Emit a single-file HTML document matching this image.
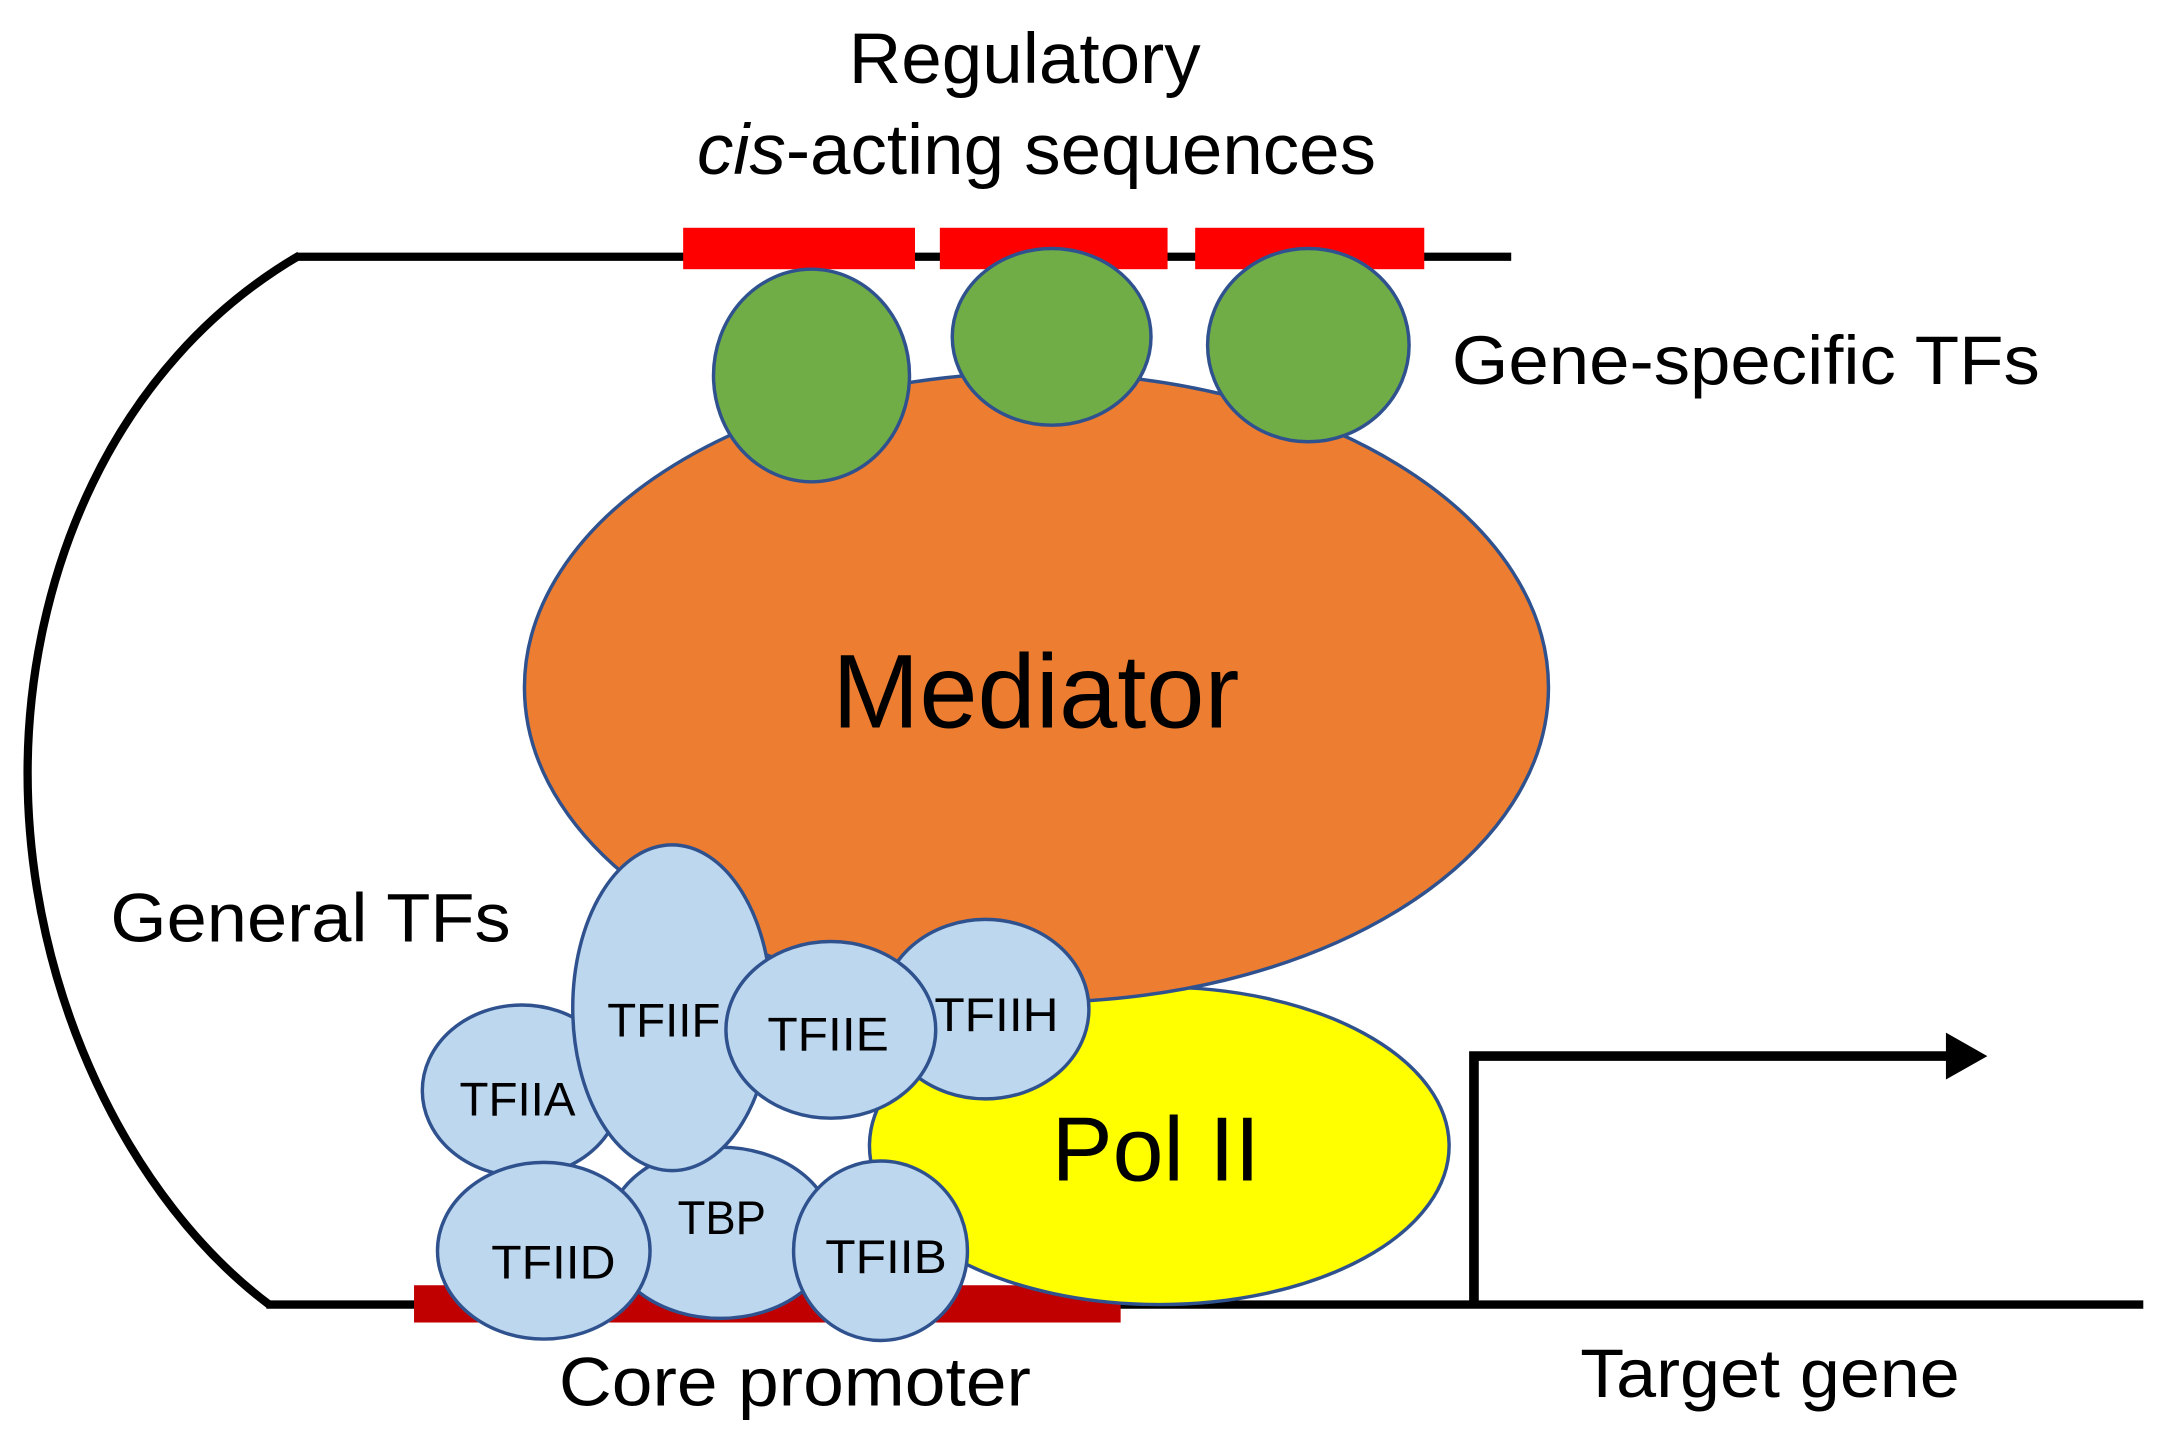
<!DOCTYPE html>
<html><head><meta charset="utf-8"><style>
html,body{margin:0;padding:0;background:#fff;}
svg{display:block;}
text{font-family:"Liberation Sans",sans-serif;fill:#000;}
</style></head><body>
<svg width="2164" height="1444" viewBox="0 0 1568 1046" preserveAspectRatio="none" xmlns="http://www.w3.org/2000/svg">
<rect width="1568" height="1046" fill="#fff"/>
<line x1="215" y1="186" x2="1095" y2="186" stroke="#000" stroke-width="6"/>
<path d="M217,185 C80,265 20,420 20,560 C20,720 95,870 195,945" fill="none" stroke="#000" stroke-width="6"/>
<line x1="193" y1="945" x2="1553" y2="945" stroke="#000" stroke-width="6"/>
<rect x="495" y="165" width="168" height="30" fill="#ff0000"/>
<rect x="681" y="165" width="165" height="30" fill="#ff0000"/>
<rect x="866" y="165" width="166" height="30" fill="#ff0000"/>
<rect x="300" y="931" width="512" height="27" fill="#c00000"/>
<polyline points="1068,945 1068,765 1415,765" fill="none" stroke="#000" stroke-width="7"/>
<polygon points="1410,748 1440,765 1410,782" fill="#000"/>
<ellipse cx="840" cy="830" rx="210" ry="115" fill="#ffff00" stroke="#2f528f" stroke-width="2.5"/>
<ellipse cx="751" cy="498" rx="371" ry="228" fill="#ed7d31" stroke="#2f528f" stroke-width="2.5"/>
<g fill="#70ad47" stroke="#2f528f" stroke-width="2.5">
<ellipse cx="588" cy="272" rx="71" ry="77"/>
<ellipse cx="762" cy="244" rx="72" ry="64"/>
<ellipse cx="948" cy="250" rx="73" ry="70"/>
</g>
<g fill="#bdd7ee" stroke="#2f528f" stroke-width="2.5">
<ellipse cx="714" cy="731" rx="75" ry="65"/>
<ellipse cx="378" cy="790" rx="72" ry="62"/>
<ellipse cx="522" cy="893" rx="82" ry="62"/>
<ellipse cx="487" cy="730" rx="72" ry="118"/>
<ellipse cx="602" cy="746" rx="76" ry="64"/>
<ellipse cx="394" cy="906" rx="77" ry="64"/>
<ellipse cx="638" cy="906" rx="63" ry="65"/>
</g>
<g font-size="34" lengthAdjust="spacingAndGlyphs">
<text x="677" y="747" textLength="90" lengthAdjust="spacingAndGlyphs">TFIIH</text>
<text x="333" y="808" textLength="84" lengthAdjust="spacingAndGlyphs">TFIIA</text>
<text x="491" y="894" textLength="64" lengthAdjust="spacingAndGlyphs">TBP</text>
<text x="440" y="751" textLength="82" lengthAdjust="spacingAndGlyphs">TFIIF</text>
<text x="556" y="761" textLength="88" lengthAdjust="spacingAndGlyphs">TFIIE</text>
<text x="356" y="926" textLength="90" lengthAdjust="spacingAndGlyphs">TFIID</text>
<text x="598" y="922" textLength="88" lengthAdjust="spacingAndGlyphs">TFIIB</text>
</g>
<text x="603" y="527" font-size="76" textLength="295" lengthAdjust="spacingAndGlyphs">Mediator</text>
<text x="762" y="855" font-size="66" textLength="151" lengthAdjust="spacingAndGlyphs">Pol II</text>
<text x="615" y="60" font-size="52" textLength="255" lengthAdjust="spacingAndGlyphs">Regulatory</text>
<text x="505" y="126" font-size="52" textLength="492" lengthAdjust="spacingAndGlyphs"><tspan font-style="italic">cis</tspan>-acting sequences</text>
<text x="1052" y="278" font-size="50" textLength="426" lengthAdjust="spacingAndGlyphs">Gene-specific TFs</text>
<text x="80" y="682" font-size="50" textLength="290" lengthAdjust="spacingAndGlyphs">General TFs</text>
<text x="405" y="1018" font-size="50" textLength="342" lengthAdjust="spacingAndGlyphs">Core promoter</text>
<text x="1145" y="1012" font-size="50" textLength="275" lengthAdjust="spacingAndGlyphs">Target gene</text>
</svg>
</body></html>
